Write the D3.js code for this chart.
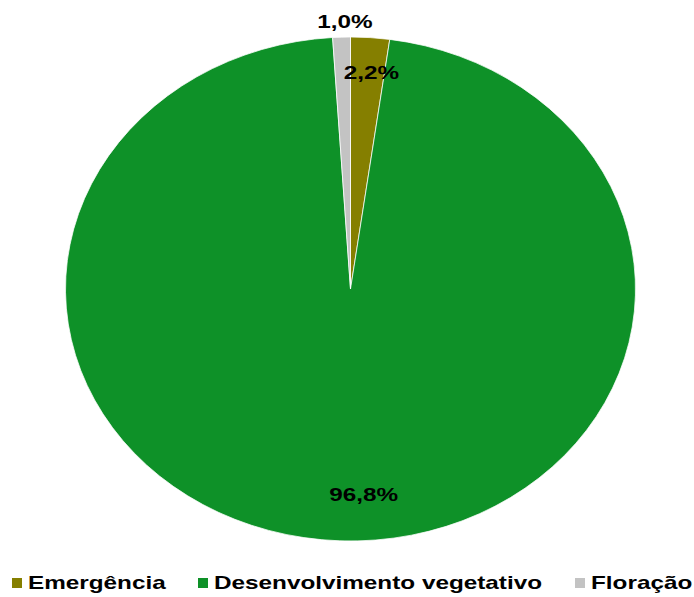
<!DOCTYPE html>
<html>
<head>
<meta charset="utf-8">
<script src="https://cdn.jsdelivr.net/npm/d3@7"></script>
<style>
  html, body { margin: 0; padding: 0; background: #fff; }
  svg { display: block; font-family: "Liberation Sans", Arial, sans-serif; }
</style>
</head>
<body>
<div id="chart"></div>
<script>
const width = 694;
const height = 597;

// stages and their shares (%)
const categories = ["Emergência", "Desenvolvimento vegetativo", "Floração"];
const values = [2.2, 96.8, 1.0];
const labels = ["2,2%", "96,8%", "1,0%"];
const colors = ["#857f00", "#0e9128", "#c3c3c3"];

const cx = 350.5, cy = 289;
const rx = 285, ry = 252;
const stretch = 1.35; // the whole picture is wider than tall

const svg = d3.select("#chart")
  .append("svg")
    .attr("width", width)
    .attr("height", height)
    .attr("viewBox", [0, 0, width, height]);

const colorScale = d3.scaleOrdinal()
  .domain(categories)
  .range(colors);

const pie = d3.pie()
  .sort(null)
  .value(d => d.value);

const data = categories.map((c, i) => ({ name: c, value: values[i], label: labels[i] }));
const arcs = pie(data);

const arc = d3.arc()
  .innerRadius(0)
  .outerRadius(rx);

// pie squashed into an ellipse
const pieG = svg
  .append("g")
    .attr("transform", `translate(${cx}, ${cy}) scale(1, ${ry / rx})`);

pieG.selectAll("path")
  .data(arcs)
  .join("path")
    .attr("d", arc)
    .attr("fill", d => colorScale(d.data.name))
    .attr("stroke", "#fff")
    .attr("stroke-width", 0.8);

// labels: radial fraction along the mid angle (outside for the small grey slice)
const labelPos = (d, i) => {
  const a = (d.startAngle + d.endAngle) / 2;
  const k = [0.86, 0.82, 1.06][i];
  const dx = [4, 22, 4][i];
  return [cx + rx * k * Math.sin(a) + dx, cy - ry * k * Math.cos(a)];
};

svg.append("g")
  .selectAll("text")
  .data(arcs)
  .join("text")
    .attr("transform", (d, i) => {
      const [x, y] = labelPos(d, i);
      return `translate(${x}, ${y}) scale(${stretch}, 1)`;
    })
    .attr("text-anchor", "middle")
    .attr("dominant-baseline", "central")
    .attr("font-size", "18px")
    .attr("font-weight", "bold")
    .attr("fill", "#000")
    .text(d => d.data.label);

// legend
const legendOffsets = [12, 198, 575];

const legend = svg
  .append("g")
    .attr("transform", "translate(0, 583)");

const items = legend.selectAll("g")
  .data(categories)
  .join("g")
    .attr("transform", (d, i) => `translate(${legendOffsets[i]}, 0)`);

items.append("rect")
  .attr("x", 0)
  .attr("y", -5)
  .attr("width", 10)
  .attr("height", 10)
  .attr("fill", d => colorScale(d));

items.append("text")
  .attr("transform", `translate(16, 0) scale(${stretch}, 1)`)
  .attr("dominant-baseline", "central")
  .attr("font-size", "18px")
  .attr("font-weight", "bold")
  .attr("fill", "#000")
  .text(d => d);
</script>
</body>
</html>
